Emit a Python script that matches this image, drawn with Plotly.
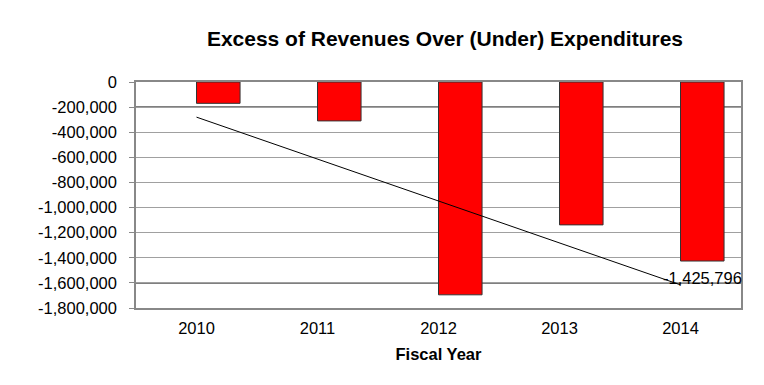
import numpy as np
import plotly.graph_objects as go

years = [2010, 2011, 2012, 2013, 2014]
values = [-170000, -310000, -1695000, -1138000, -1425796]
y_ticks = [0, -200000, -400000, -600000, -800000, -1000000, -1200000, -1400000, -1600000, -1800000]
y_tick_labels = ["0", "-200,000", "-400,000", "-600,000", "-800,000", "-1,000,000",
                 "-1,200,000", "-1,400,000", "-1,600,000", "-1,800,000"]
dark_grid = [-200000, -1600000]
label_text = "-1,425,796"

bar_width = 0.36
slope, intercept = np.polyfit(years, values, 1)
trend_x = [years[0], years[-1]]
trend_y = [slope * years[0] + intercept, slope * years[-1] + intercept]

FONT = "Liberation Sans, Arial"

fig = go.Figure()
fig.add_trace(go.Bar(x=years, y=values, width=bar_width, offset=0,
                     marker=dict(color="#FF0000", line=dict(color="#333333", width=1)),
                     showlegend=False))
fig.add_trace(go.Scatter(x=trend_x, y=trend_y, mode="lines",
                         line=dict(color="black", width=1), showlegend=False))

for g in dark_grid:
    fig.add_shape(type="line", xref="paper", x0=0, x1=1, yref="y", y0=g, y1=g,
                  line=dict(color="black", width=1.3), layer="below")

fig.add_annotation(x=years[-1] + bar_width / 2, y=trend_y[-1], xref="x", yref="y",
                   text=label_text, showarrow=False, xanchor="center", yanchor="bottom",
                   yshift=-4, font=dict(family=FONT, size=16.5, color="black"))

# page body has an 8px margin, so the figure is sized/offset to compensate
fig.update_layout(
    width=756, height=377,
    margin=dict(l=128, r=23, t=74, b=77),
    paper_bgcolor="white", plot_bgcolor="white",
    title=dict(text="<b>Excess of Revenues Over (Under) Expenditures</b>",
               x=0.578, xanchor="center", y=0.92, yanchor="middle",
               font=dict(family=FONT, size=21, color="black")),
    font=dict(family=FONT, size=16.5, color="black"),
)
fig.update_xaxes(range=[2009.5, 2014.5], tickvals=years, ticktext=[str(y) for y in years],
                 showgrid=False, showline=True, linecolor="#888888", linewidth=1.5, mirror=True,
                 ticks="", automargin=False, ticklabelstandoff=4,
                 title=dict(text="<b>Fiscal Year</b>", standoff=13, font=dict(size=16.5)))
fig.update_yaxes(range=[-1800000, 0], tickvals=y_ticks, ticktext=y_tick_labels,
                 showgrid=True, gridcolor="#A0A0A0", gridwidth=1,
                 showline=True, linecolor="#888888", linewidth=1.5, mirror=True,
                 ticks="outside", ticklen=5, tickcolor="#888888", zeroline=False,
                 ticklabelstandoff=9, automargin=False)

fig.write_html("out.html")
